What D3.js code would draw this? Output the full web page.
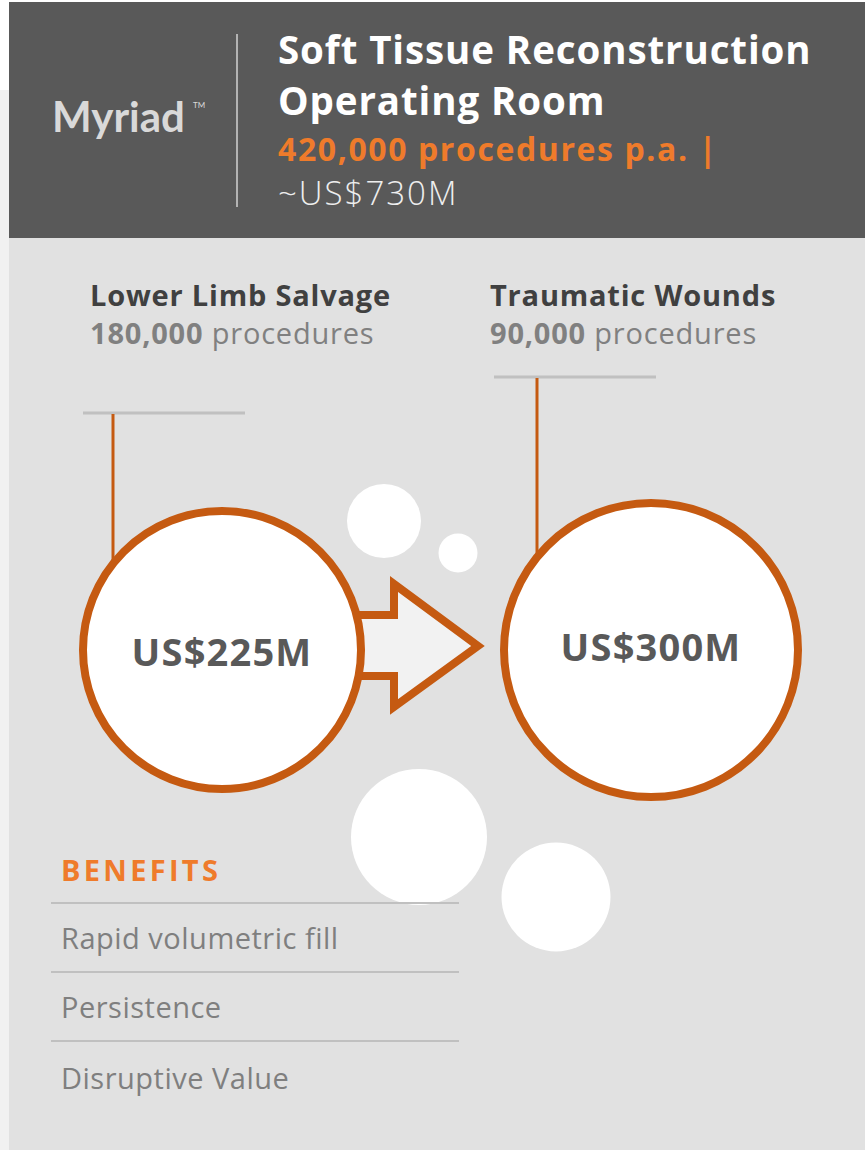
<!DOCTYPE html>
<html>
<head>
<meta charset="utf-8">
<script src="https://cdn.jsdelivr.net/npm/d3@7"></script>
<style>
  html, body { margin: 0; padding: 0; background: #fff; }
  svg { display: block; }
</style>
</head>
<body>
<svg id="chart"></svg>
<script>
// DATA
var segments = ["Lower Limb Salvage", "Traumatic Wounds"];
var procedures = [180000, 90000];
var marketValues = [225, 300]; // US$ millions
var benefits = ["Rapid volumetric fill", "Persistence", "Disruptive Value"];
var totalProcedures = 420000;
var totalMarket = 730;

var width = 865, height = 1150;
var orange = "#c55a11", orangeText = "#ef7b2b";
var fmt = d3.format(",");

var svg = d3.select("#chart")
  .attr("width", width)
  .attr("height", height);

// background panels
svg.append("rect").attr("x", 0).attr("y", 90).attr("width", 9).attr("height", height - 90).attr("fill", "#f1f1f1");
svg.append("rect").attr("x", 9).attr("y", 2).attr("width", width - 9).attr("height", 236).attr("fill", "#595959");
svg.append("rect").attr("x", 9).attr("y", 238).attr("width", width - 9).attr("height", height - 238).attr("fill", "#e1e1e1");

// header
svg.append("text")
  .attr("x", 52).attr("y", 132)
  .attr("font-family", "Lato").attr("font-weight", 700).attr("font-size", 42)
  .attr("fill", "#d9d9d9")
  .text("Myriad");
svg.append("text")
  .attr("x", 193).attr("y", 108)
  .attr("font-family", "Lato").attr("font-size", 8)
  .attr("fill", "#d9d9d9")
  .text("TM");

svg.append("line")
  .attr("x1", 237).attr("x2", 237).attr("y1", 34).attr("y2", 207)
  .attr("stroke", "#b3b3b3").attr("stroke-width", 2);

var head = svg.append("g").attr("font-family", "Open Sans");
head.append("text").attr("x", 278).attr("y", 64)
  .attr("font-weight", 700).attr("font-size", 38.5).attr("fill", "#fff")
  .attr("letter-spacing", 0.9)
  .text("Soft Tissue Reconstruction");
head.append("text").attr("x", 278).attr("y", 115)
  .attr("font-weight", 700).attr("font-size", 38.5).attr("fill", "#fff")
  .attr("letter-spacing", 0.9)
  .text("Operating Room");
head.append("text").attr("x", 278).attr("y", 161)
  .attr("font-weight", 700).attr("font-size", 32).attr("fill", orangeText)
  .attr("letter-spacing", 1.6)
  .text(fmt(totalProcedures) + " procedures p.a. |");
head.append("text").attr("x", 278).attr("y", 205)
  .attr("font-weight", 300).attr("font-size", 33).attr("fill", "#eeeeee")
  .attr("letter-spacing", 2)
  .text("~US$" + totalMarket + "M");

// scales
var x = d3.scalePoint().domain(segments).range([222, 651]);
var r = d3.scaleLinear().domain(d3.extent(marketValues)).range([139, 147]);
var cy = 650;

var labelX = [90, 490];
var leaderY = [413, 377];
var stemX = [113, 537];

var data = segments.map(function (s, i) {
  return { name: s, procs: procedures[i], value: marketValues[i], i: i };
});

// decorative bubbles
var bubbles = [[384, 521, 37], [458, 553, 19.5], [419, 837, 68], [556, 897, 54.5]];
svg.selectAll(".bubble").data(bubbles).enter().append("circle")
  .attr("class", "bubble")
  .attr("cx", function (d) { return d[0]; })
  .attr("cy", function (d) { return d[1]; })
  .attr("r", function (d) { return d[2]; })
  .attr("fill", "#fff");

// segment labels
var lab = svg.selectAll(".seg-label").data(data).enter().append("g")
  .attr("class", "seg-label")
  .attr("font-family", "Open Sans");
lab.append("text")
  .attr("x", function (d) { return labelX[d.i]; }).attr("y", 306)
  .attr("font-weight", 700).attr("font-size", 29).attr("fill", "#404040")
  .attr("letter-spacing", 0.8)
  .text(function (d) { return d.name; });
var sub = lab.append("text")
  .attr("x", function (d) { return labelX[d.i]; }).attr("y", 344)
  .attr("font-size", 29).attr("fill", "#808080")
  .attr("letter-spacing", 0.8);
sub.append("tspan").attr("font-weight", 700).text(function (d) { return fmt(d.procs); });
sub.append("tspan").text(" procedures");

// leaders
lab.append("line")
  .attr("x1", function (d) { return labelX[d.i] - 7 + d.i * 11; })
  .attr("x2", function (d) { return labelX[d.i] + 155 + d.i * 11; })
  .attr("y1", function (d) { return leaderY[d.i]; })
  .attr("y2", function (d) { return leaderY[d.i]; })
  .attr("stroke", "#c0c0c0").attr("stroke-width", 3);
lab.append("line")
  .attr("x1", function (d) { return stemX[d.i]; })
  .attr("x2", function (d) { return stemX[d.i]; })
  .attr("y1", function (d) { return leaderY[d.i] + 1; })
  .attr("y2", cy - 60)
  .attr("stroke", orange).attr("stroke-width", 3);

// arrow between the circles
var ax0 = x(segments[0]) + 118, axb = x(segments[0]) + 172, tip = x(segments[1]) - r(marketValues[1]) - 26;
var p = d3.path();
p.moveTo(ax0, cy - 35);
p.lineTo(axb, cy - 35);
p.lineTo(axb, cy - 66);
p.lineTo(tip, cy - 4);
p.lineTo(axb, cy + 57);
p.lineTo(axb, cy + 26);
p.lineTo(ax0, cy + 26);
p.closePath();
svg.append("path")
  .attr("d", p.toString())
  .attr("fill", "#f2f2f2")
  .attr("stroke", orange).attr("stroke-width", 8)
  .attr("stroke-linejoin", "miter");

// value circles
var node = svg.selectAll(".node").data(data).enter().append("g").attr("class", "node");
node.append("circle")
  .attr("cx", function (d) { return x(d.name); })
  .attr("cy", cy)
  .attr("r", function (d) { return r(d.value); })
  .attr("fill", "#fff")
  .attr("stroke", orange).attr("stroke-width", 8);
node.append("text")
  .attr("x", function (d) { return x(d.name); })
  .attr("y", function (d) { return d.i ? cy + 11 : cy + 16; })
  .attr("text-anchor", "middle")
  .attr("font-family", "Open Sans").attr("font-weight", 700).attr("font-size", 38)
  .attr("letter-spacing", 1.2)
  .attr("fill", "#595959")
  .text(function (d) { return "US$" + d.value + "M"; });

// benefits
svg.append("text")
  .attr("x", 61).attr("y", 881)
  .attr("font-family", "Open Sans").attr("font-weight", 700).attr("font-size", 29)
  .attr("letter-spacing", 3.3)
  .attr("fill", orangeText)
  .text("BENEFITS");

var rows = d3.scaleBand().domain(benefits).range([903, 903 + 69 * benefits.length]);
var row = svg.selectAll(".benefit").data(benefits).enter().append("g").attr("class", "benefit");
row.append("line")
  .attr("x1", 51).attr("x2", 459)
  .attr("y1", function (d) { return rows(d); })
  .attr("y2", function (d) { return rows(d); })
  .attr("stroke", "#c0c0c0").attr("stroke-width", 2);
row.append("text")
  .attr("x", 61)
  .attr("y", function (d, i) { return rows(d) + 46 + (i == 2 ? 2 : 0); })
  .attr("font-family", "Open Sans").attr("font-size", 29)
  .attr("letter-spacing", 0.5)
  .attr("fill", "#7f7f7f")
  .text(function (d) { return d; });
</script>
</body>
</html>
